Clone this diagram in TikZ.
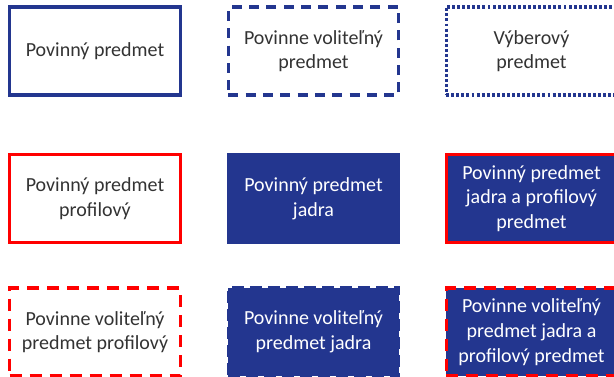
\documentclass[tikz,border=0pt]{standalone}
\usepackage{fontspec}
\setmainfont{Carlito}
\definecolor{kblue}{RGB}{35,54,143}
\definecolor{kred}{RGB}{255,0,0}
\tikzset{
  subj/.style={rectangle, draw=kblue, line width=2.4pt, minimum width=128pt,
    minimum height=66pt, inner sep=0pt, align=center, text=black!80,
    font=\fontsize{15}{18.5}\selectfont},
  volit/.style={dash pattern=on 7.5pt off 5.5pt},
  vyber/.style={dash pattern=on 2.2pt off 1.6pt},
  profil/.style={draw=kred},
  profilvol/.style={draw=kred, dash pattern=on 9pt off 6pt},
  jadro/.style={fill=kblue, text=white},
  jadrovol/.style={dash pattern=on 9pt off 4.5pt}
}
\begin{document}
\begin{tikzpicture}[x=0.75pt,y=-0.75pt]
\useasboundingbox (0,0) rectangle (614,376);
\clip (0,0) rectangle (614,376);
% prvy riadok
\node[subj] (povinny) at (95,51) {Povinný predmet};
\node[subj, volit] (povvol) at (313.5,51) {Povinne voliteľný\\predmet};
\node[subj, vyber] (vyberovy) at (531.5,51) {Výberový\\predmet};
% druhy riadok
\node[subj, profil] (povprof) at (95,198.5) {Povinný predmet\\profilový};
\node[subj, jadro] (povjadro) at (313.5,198.5) {Povinný predmet\\jadra};
\node[subj, jadro, profil] (povjadroprof) at (531.5,198.5) {Povinný predmet\\jadra a profilový\\predmet};
% treti riadok
\node[subj, profilvol] (volprof) at (95,332) {Povinne voliteľný\\predmet profilový};
\node[subj, jadro, jadrovol] (voljadro) at (313.5,332) {Povinne voliteľný\\predmet jadra};
\node[subj, jadro, profilvol] (voljadroprof) at (531.5,332) {Povinne voliteľný\\predmet jadra a\\profilový predmet};
\end{tikzpicture}
\end{document}
